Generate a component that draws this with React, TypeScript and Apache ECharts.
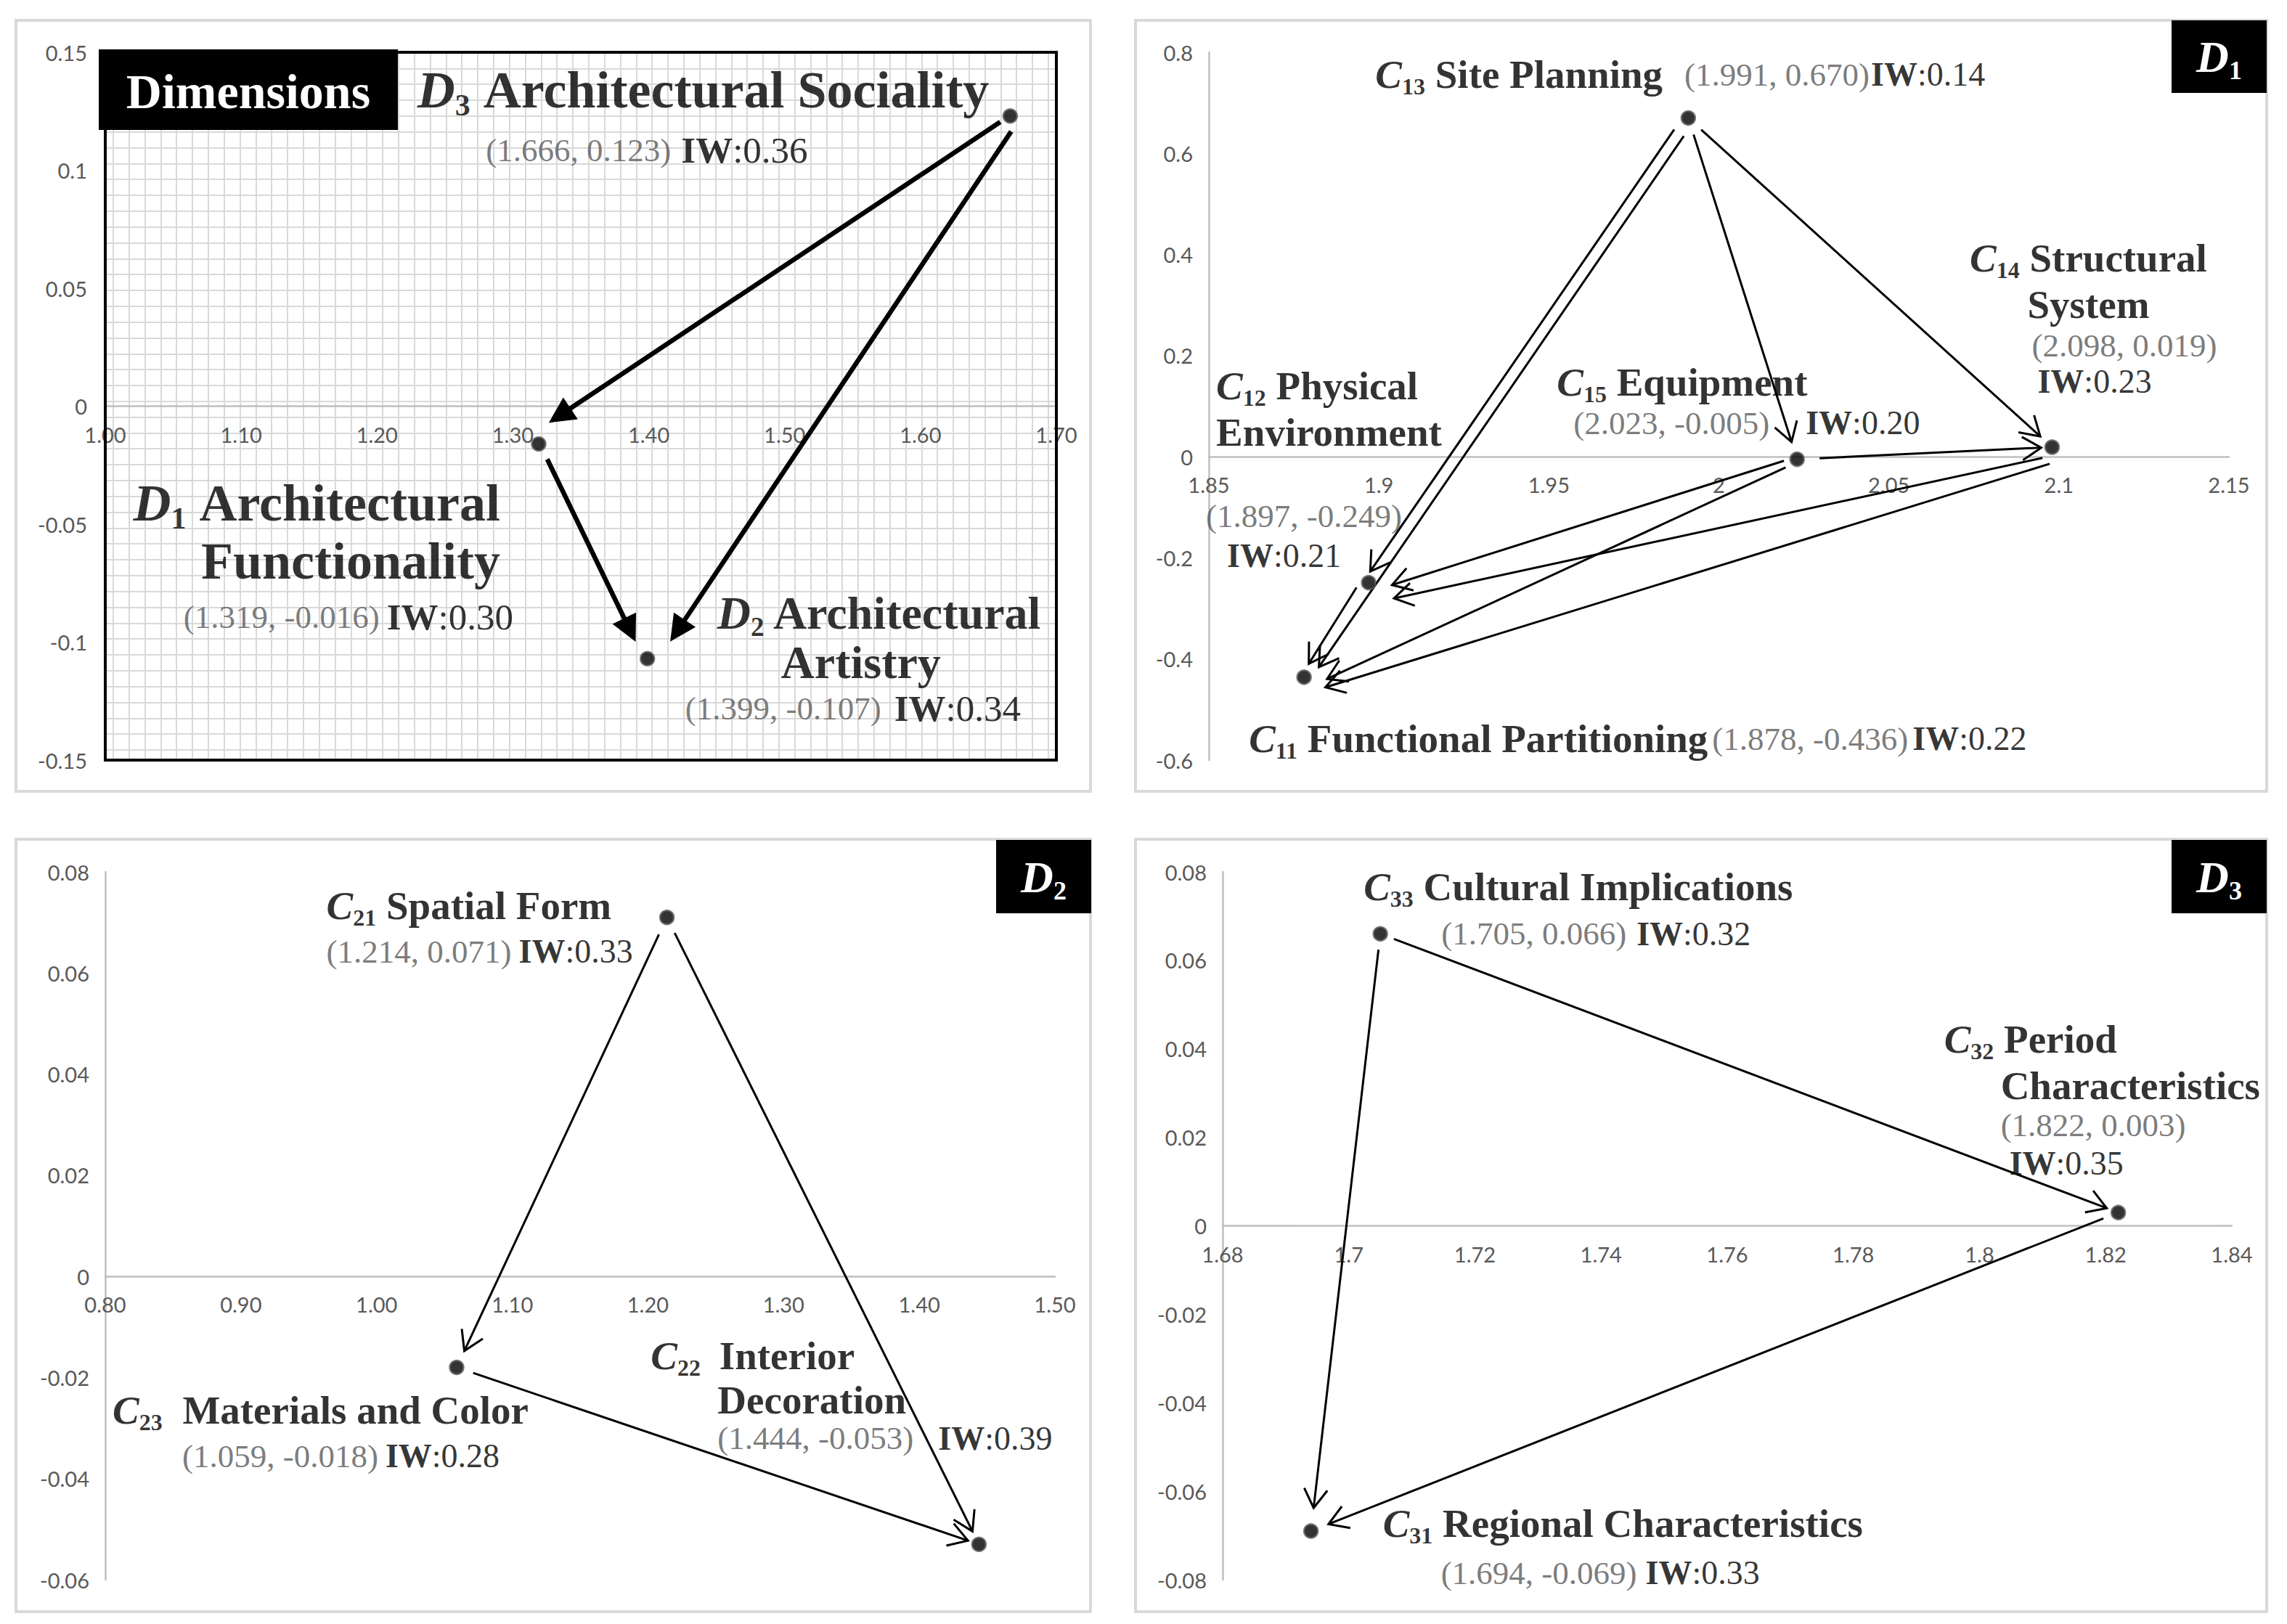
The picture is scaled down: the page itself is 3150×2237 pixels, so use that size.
import React, { useEffect, useRef } from "react";
import * as echarts from "echarts";

const W = 3150;
const H = 2237;
const SERIF = "'Liberation Serif', 'Times New Roman', Times, serif";
const SANS = "Lato, 'Liberation Sans', sans-serif";

// ---------------- DATA ----------------
// Panel "Dimensions"
const dimLetter = "D";
const dimSub = ["1", "2", "3"];
const dimNameLines = [["Architectural", "Functionality"], ["Architectural", "Artistry"], ["Architectural Sociality"]];
const dimX = [1.319, 1.399, 1.666];
const dimY = [-0.016, -0.107, 0.123];
const dimIW = [0.3, 0.34, 0.36];
const dimEdges = [[2, 0], [2, 1], [0, 1]];
const dimXAxis = [1.0, 1.7, 0.1];
const dimYAxis = [-0.15, 0.15, 0.05];

// Panel D1
const d1Letter = "C";
const d1Sub = ["11", "12", "13", "14", "15"];
const d1NameLines = [["Functional Partitioning"], ["Physical", "Environment"], ["Site Planning"], ["Structural", "System"], ["Equipment"]];
const d1X = [1.878, 1.897, 1.991, 2.098, 2.023];
const d1Y = [-0.436, -0.249, 0.67, 0.019, -0.005];
const d1IW = [0.22, 0.21, 0.14, 0.23, 0.2];
const d1Edges = [[2, 1], [2, 0], [2, 4], [2, 3], [4, 3], [4, 1], [4, 0], [3, 1], [3, 0], [1, 0]];
const d1XAxis = [1.85, 2.15, 0.05];
const d1YAxis = [-0.6, 0.8, 0.2];

// Panel D2
const d2Letter = "C";
const d2Sub = ["21", "22", "23"];
const d2NameLines = [["Spatial Form"], ["Interior", "Decoration"], ["Materials and Color"]];
const d2X = [1.214, 1.444, 1.059];
const d2Y = [0.071, -0.053, -0.018];
const d2IW = [0.33, 0.39, 0.28];
const d2Edges = [[0, 2], [0, 1], [2, 1]];
const d2XAxis = [0.8, 1.5, 0.1];
const d2YAxis = [-0.06, 0.08, 0.02];

// Panel D3
const d3Letter = "C";
const d3Sub = ["31", "32", "33"];
const d3NameLines = [["Regional Characteristics"], ["Period", "Characteristics"], ["Cultural Implications"]];
const d3X = [1.694, 1.822, 1.705];
const d3Y = [-0.069, 0.003, 0.066];
const d3IW = [0.33, 0.35, 0.32];
const d3Edges = [[2, 1], [2, 0], [1, 0]];
const d3XAxis = [1.68, 1.84, 0.02];
const d3YAxis = [-0.08, 0.08, 0.02];

const panelTags = ["Dimensions", "1", "2", "3"];

// ---------------- LAYOUT ----------------
const gridRects = [
  [145, 72, 1310, 975],
  [1665, 72, 1405, 975],
  [145, 1201, 1308, 975],
  [1684, 1201, 1390, 975],
];
const panelBorders = [
  [22, 28, 1480, 1062],
  [1564, 28, 1558, 1062],
  [22, 1156, 1480, 1064],
  [1564, 1156, 1558, 1064],
];
const tagBoxes = [
  [136, 68, 412, 111],
  [2991, 28, 131, 100],
  [1372, 1157, 131, 101],
  [2991, 1157, 131, 101],
];
// label layout: [pointIndex, part, dx, dy, align, gap1, gap2, fontVariant]
const dimLabels: any[] = [
  [2, "n", -29, -36, "right"],
  [2, "cw", -722, 47, "left", 14],
  [0, "n", -53, 121, "right"],
  [0, "cw", -35, 238, "right", 10],
  [1, "n0", 96, -63, "left", 0, 0, "2"],
  [1, "n1", 294, 5, "center", 0, 0, "2"],
  [1, "cw", 52, 69, "left", 18],
];
const d1Labels: any[] = [
  [2, "ncw", -431, -60, "left", 30, 2],
  [3, "n", 50, -228, "center"],
  [3, "c", -28, -140, "left"],
  [3, "w", -20, -90, "left"],
  [4, "n", -331, -106, "left"],
  [4, "c", -38, -50, "right"],
  [4, "w", 12, -50, "left"],
  [1, "n", -210, -239, "left"],
  [1, "c", -224, -92, "left"],
  [1, "w", -195, -37, "left"],
  [0, "ncw", -76, 85, "left", 6, 6],
];
const d2Labels: any[] = [
  [0, "n", -469, -16, "left"],
  [0, "cw", -469, 47, "left", 10],
  [2, "n", -474, 59, "left", 14],
  [2, "cw", -378, 122, "left", 10],
  [1, "n0", -452, -260, "left", 12],
  [1, "n1", -360, -199, "left"],
  [1, "c", -360, -146, "left"],
  [1, "w", -56, -146, "left"],
];
const d3Labels: any[] = [
  [2, "n", -23, -65, "left"],
  [2, "cw", 84, 0, "left", 14],
  [1, "n0", -240, -239, "left"],
  [1, "n1", -162, -175, "left"],
  [1, "c", -162, -120, "left"],
  [1, "w", -150, -68, "left"],
  [0, "n", 99, -10, "left"],
  [0, "cw", 179, 58, "left", 12],
];
// edge layout: [startGap, startOffset, endGap, endOffset]
const dimEdgeLayout = [
  [16, 1, 28, 16],
  [17, -13, 37, -13],
  [24, -1, 28, 4],
];
const d1EdgeLayout = [
  [24, 7, 14, 7],
  [24, -9, 23, -9],
  [24, 0, 25, 0],
  [24, 0, 22, 0],
  [31, 0, 15, 0],
  [18, 3, 30, -12],
  [19, -4, 28, -15],
  [16, -12, 30, -28],
  [10, -21, 24, -22],
  [15, 10, 19, 5],
];
const d2EdgeLayout = [
  [26, 0, 25, 0],
  [24, 0, 20, 0],
  [24, 0, 16, 0],
];
const d3EdgeLayout = [
  [20, 0, 17, 0],
  [22, 0, 32, 0],
  [22, 0, 26, 0],
];

const fontBig = { F: 72, F2: 64, c: 45, i: 51, LH: 80, LH2: 70 };
const fontSmall = { F: 55, F2: 55, c: 45, i: 46, LH: 64, LH2: 64 };
const arrowThick = { lw: 6.5, head: 36, half: 18, filled: true };
const arrowThin = { lw: 3, head: 26, half: 16, filled: false };

const panels = [
  { letter: dimLetter, subs: dimSub, names: dimNameLines, xs: dimX, ys: dimY, iw: dimIW, edges: dimEdges, edgeLayout: dimEdgeLayout, xa: dimXAxis, ya: dimYAxis, fixed2: true, labels: dimLabels, font: fontBig, arrow: arrowThick },
  { letter: d1Letter, subs: d1Sub, names: d1NameLines, xs: d1X, ys: d1Y, iw: d1IW, edges: d1Edges, edgeLayout: d1EdgeLayout, xa: d1XAxis, ya: d1YAxis, fixed2: false, labels: d1Labels, font: fontSmall, arrow: arrowThin },
  { letter: d2Letter, subs: d2Sub, names: d2NameLines, xs: d2X, ys: d2Y, iw: d2IW, edges: d2Edges, edgeLayout: d2EdgeLayout, xa: d2XAxis, ya: d2YAxis, fixed2: true, labels: d2Labels, font: fontSmall, arrow: arrowThin },
  { letter: d3Letter, subs: d3Sub, names: d3NameLines, xs: d3X, ys: d3Y, iw: d3IW, edges: d3Edges, edgeLayout: d3EdgeLayout, xa: d3XAxis, ya: d3YAxis, fixed2: false, labels: d3Labels, font: fontSmall, arrow: arrowThin },
];

const GAPS = [2, 4, 6, 8, 10, 12, 14, 16, 18, 20, 24, 30];

function nameStyles(F: number, LH: number, suffix: string) {
  const s = Math.round(F * 0.58);
  const r: any = {};
  r["it" + suffix] = { fontFamily: SERIF, fontSize: F, fontWeight: "bold", fontStyle: "italic", color: "#000", lineHeight: LH };
  r["sub" + suffix] = { fontFamily: SERIF, fontSize: s, fontWeight: "bold", color: "#000", lineHeight: s, padding: [Math.round(F * 0.6), 0, 0, 0] };
  r["b" + suffix] = { fontFamily: SERIF, fontSize: F, fontWeight: "bold", color: "#000", lineHeight: LH };
  return r;
}

function makeRich(f: any) {
  const r: any = {
    ...nameStyles(f.F, f.LH, ""),
    ...nameStyles(f.F2, f.LH2, "2"),
    c: { fontFamily: SERIF, fontSize: f.c, color: "#595959", lineHeight: f.c },
    iwb: { fontFamily: SERIF, fontSize: f.i, fontWeight: "bold", color: "#000", lineHeight: f.i },
    iw: { fontFamily: SERIF, fontSize: f.i, color: "#000", lineHeight: f.i },
  };
  GAPS.forEach((g) => {
    r["g" + g] = { width: g, fontSize: 4, lineHeight: 4 };
  });
  return r;
}

function labelText(p: any, k: number, part: string, g1?: number, g2?: number, v?: string) {
  const sx = v || "";
  const lines = p.names[k];
  const gap = (g?: number) => (g ? `{g${g}| }` : "");
  const nameGap = part === "n" || part === "n0" ? gap(g1) : "";
  const head = `{it${sx}|${p.letter}}{sub${sx}|${p.subs[k]}}${nameGap}{b${sx}| ${lines[0]}}`;
  const coord = `{c|(${p.xs[k].toFixed(3)}, ${p.ys[k].toFixed(3)})}`;
  const iw = `{iwb|IW}{iw|:${p.iw[k].toFixed(2)}}`;
  switch (part) {
    case "n":
      return [head, ...lines.slice(1).map((l: string) => `{b${sx}|${l}}`)].join("\n");
    case "n0":
      return head;
    case "n1":
      return `{b${sx}|${lines[1]}}`;
    case "c":
      return coord;
    case "w":
      return iw;
    case "cw":
      return coord + gap(g1) + iw;
    case "ncw":
      return head + gap(g1) + coord + gap(g2) + iw;
  }
  return "";
}

function makeArrow(st: any) {
  return (params: any, api: any) => {
    const a = api.coord([api.value(0), api.value(1)]);
    const b = api.coord([api.value(2), api.value(3)]);
    const g0 = api.value(4), o0 = api.value(5), g1 = api.value(6), o1 = api.value(7);
    const dx = b[0] - a[0], dy = b[1] - a[1];
    const len = Math.hypot(dx, dy) || 1;
    const ux = dx / len, uy = dy / len;
    const nx = -uy, ny = ux;
    const sx = a[0] + ux * g0 + nx * o0, sy = a[1] + uy * g0 + ny * o0;
    const tx = b[0] - ux * g1 + nx * o1, ty = b[1] - uy * g1 + ny * o1;
    const ddx = tx - sx, ddy = ty - sy;
    const l2 = Math.hypot(ddx, ddy) || 1;
    const vx = ddx / l2, vy = ddy / l2;
    const mx = -vy, my = vx;
    const bx = tx - vx * st.head, by = ty - vy * st.head;
    const p1 = [bx + mx * st.half, by + my * st.half];
    const p2 = [bx - mx * st.half, by - my * st.half];
    const children: any[] = [];
    if (st.filled) {
      children.push({ type: "line", shape: { x1: sx, y1: sy, x2: bx + vx * 2, y2: by + vy * 2 }, style: { stroke: "#000", lineWidth: st.lw } });
      children.push({ type: "polygon", shape: { points: [p1, [tx, ty], p2] }, style: { fill: "#000" } });
    } else {
      children.push({ type: "line", shape: { x1: sx, y1: sy, x2: tx, y2: ty }, style: { stroke: "#000", lineWidth: st.lw } });
      children.push({ type: "polyline", shape: { points: [p1, [tx, ty], p2] }, style: { stroke: "#000", lineWidth: st.lw, fill: "none", lineJoin: "miter" } });
    }
    return { type: "group", children };
  };
}

function buildOption() {
  const grid: any[] = gridRects.map(([l, t, w, h]) => ({ left: l, top: t, width: w, height: h, containLabel: false }));
  // graph-paper grids for the Dimensions panel
  grid.push({ left: 155.9, top: 72, width: 1288, height: 975 });
  grid.push({ left: 145, top: 72.5, width: 1310, height: 960.5 });

  const tickLabel = (fmt?: any) => {
    const o: any = { color: "#595959", fontFamily: SANS, fontSize: 29, margin: 24, showMinLabel: true, showMaxLabel: true };
    if (fmt) o.formatter = fmt;
    return o;
  };
  const xAxis: any[] = panels.map((p, i) => {
    // place the x axis (line and labels) where y = 0
    const zeroUp = ((0 - p.ya[0]) / (p.ya[1] - p.ya[0])) * gridRects[i][3];
    return {
      gridIndex: i,
      type: "value",
      position: "bottom",
      offset: -zeroUp,
      min: p.xa[0],
      max: p.xa[1],
      interval: p.xa[2],
      axisLine: { show: true, onZero: false, lineStyle: { color: "#bfbfbf", width: 2.5 } },
      axisTick: { show: false },
      splitLine: { show: false },
      axisLabel: tickLabel(p.fixed2 ? (v: number) => v.toFixed(2) : undefined),
    };
  });
  const yAxis: any[] = panels.map((p, i) => ({
    gridIndex: i,
    type: "value",
    min: p.ya[0],
    max: p.ya[1],
    interval: p.ya[2],
    axisLine: { show: i !== 0, onZero: false, lineStyle: { color: "#bfbfbf", width: 2.5 } },
    axisTick: { show: false },
    splitLine: { show: false },
    axisLabel: { ...tickLabel(), margin: i === 0 ? 25 : 22 },
  }));
  const hidden = { axisLine: { show: false }, axisTick: { show: false }, axisLabel: { show: false } };
  const paper = { show: true, lineStyle: { color: "#d9d9d9", width: 2 } };
  xAxis.push({ gridIndex: 4, type: "value", min: 0, max: 59, interval: 1, ...hidden, splitLine: paper });
  yAxis.push({ gridIndex: 4, type: "value", min: 0, max: 1, interval: 1, ...hidden, splitLine: { show: false } });
  xAxis.push({ gridIndex: 5, type: "value", min: 0, max: 1, interval: 1, ...hidden, splitLine: { show: false } });
  yAxis.push({ gridIndex: 5, type: "value", min: 0, max: 44, interval: 1, ...hidden, splitLine: paper });

  const series: any[] = [];
  panels.forEach((p, i) => {
    series.push({
      type: "custom",
      xAxisIndex: i,
      yAxisIndex: i,
      z: 3,
      silent: true,
      renderItem: makeArrow(p.arrow),
      encode: { x: [0, 2], y: [1, 3] },
      data: p.edges.map(([f, t], k) => [p.xs[f], p.ys[f], p.xs[t], p.ys[t], ...p.edgeLayout[k]]),
    });
    series.push({
      type: "scatter",
      xAxisIndex: i,
      yAxisIndex: i,
      z: 4,
      silent: true,
      symbol: "circle",
      symbolSize: 19,
      itemStyle: { color: "#000", borderColor: "#606060", borderWidth: 2.5 },
      data: p.xs.map((x, k) => [x, p.ys[k]]),
    });
    series.push({
      type: "scatter",
      xAxisIndex: i,
      yAxisIndex: i,
      z: 5,
      silent: true,
      symbol: "circle",
      symbolSize: 1,
      itemStyle: { color: "rgba(0,0,0,0)" },
      label: { show: true, position: "inside", color: "#000", textBorderWidth: 0, fontFamily: SERIF, rich: makeRich(p.font) },
      data: p.labels.map(([k, part, dx, dy, align, g1, g2, v]: any) => ({
        value: [p.xs[k], p.ys[k]],
        label: { formatter: labelText(p, k, part, g1, g2, v), offset: [dx, dy], align, verticalAlign: "middle" },
      })),
    });
  });

  const graphic: any[] = [];
  panelBorders.forEach(([x, y, w, h]) => {
    graphic.push({ type: "rect", silent: true, z: 1, shape: { x, y, width: w, height: h }, style: { fill: "none", stroke: "#d9d9d9", lineWidth: 4 } });
  });
  const [fl, ft, fw, fh] = gridRects[0];
  graphic.push({ type: "rect", silent: true, z: 2, shape: { x: fl, y: ft, width: fw, height: fh }, style: { fill: "none", stroke: "#000", lineWidth: 4 } });
  tagBoxes.forEach(([x, y, w, h], i) => {
    graphic.push({ type: "rect", silent: true, z: 10, shape: { x, y, width: w, height: h }, style: { fill: "#000" } });
    if (i === 0) {
      graphic.push({
        type: "text", silent: true, z: 11, x: x + w / 2, y: y + h / 2 + 2,
        style: { text: panelTags[0], fill: "#fff", fontFamily: SERIF, fontWeight: "bold", fontSize: 68, align: "center", verticalAlign: "middle" },
      });
    } else {
      graphic.push({
        type: "text", silent: true, z: 11, x: x + w / 2, y: y + h / 2,
        style: {
          text: `{i|D}{s|${panelTags[i]}}`,
          align: "center",
          verticalAlign: "middle",
          rich: {
            i: { fontFamily: SERIF, fontWeight: "bold", fontStyle: "italic", fontSize: 62, fill: "#fff", color: "#fff", lineHeight: 64 },
            s: { fontFamily: SERIF, fontWeight: "bold", fontSize: 36, fill: "#fff", color: "#fff", lineHeight: 36, padding: [38, 0, 0, 0] },
          },
        },
      });
    }
  });

  return {
    animation: false,
    backgroundColor: "#ffffff",
    grid,
    xAxis,
    yAxis,
    series,
    graphic,
  };
}

export default function App() {
  const ref = useRef<HTMLDivElement>(null);
  useEffect(() => {
    if (!ref.current) return;
    const chart = echarts.init(ref.current, null, { renderer: "svg", width: W, height: H });
    chart.setOption(buildOption() as any);
    return () => chart.dispose();
  }, []);
  return <div ref={ref} style={{ position: "absolute", left: 0, top: 0, width: W, height: H, background: "#fff" }} />;
}
